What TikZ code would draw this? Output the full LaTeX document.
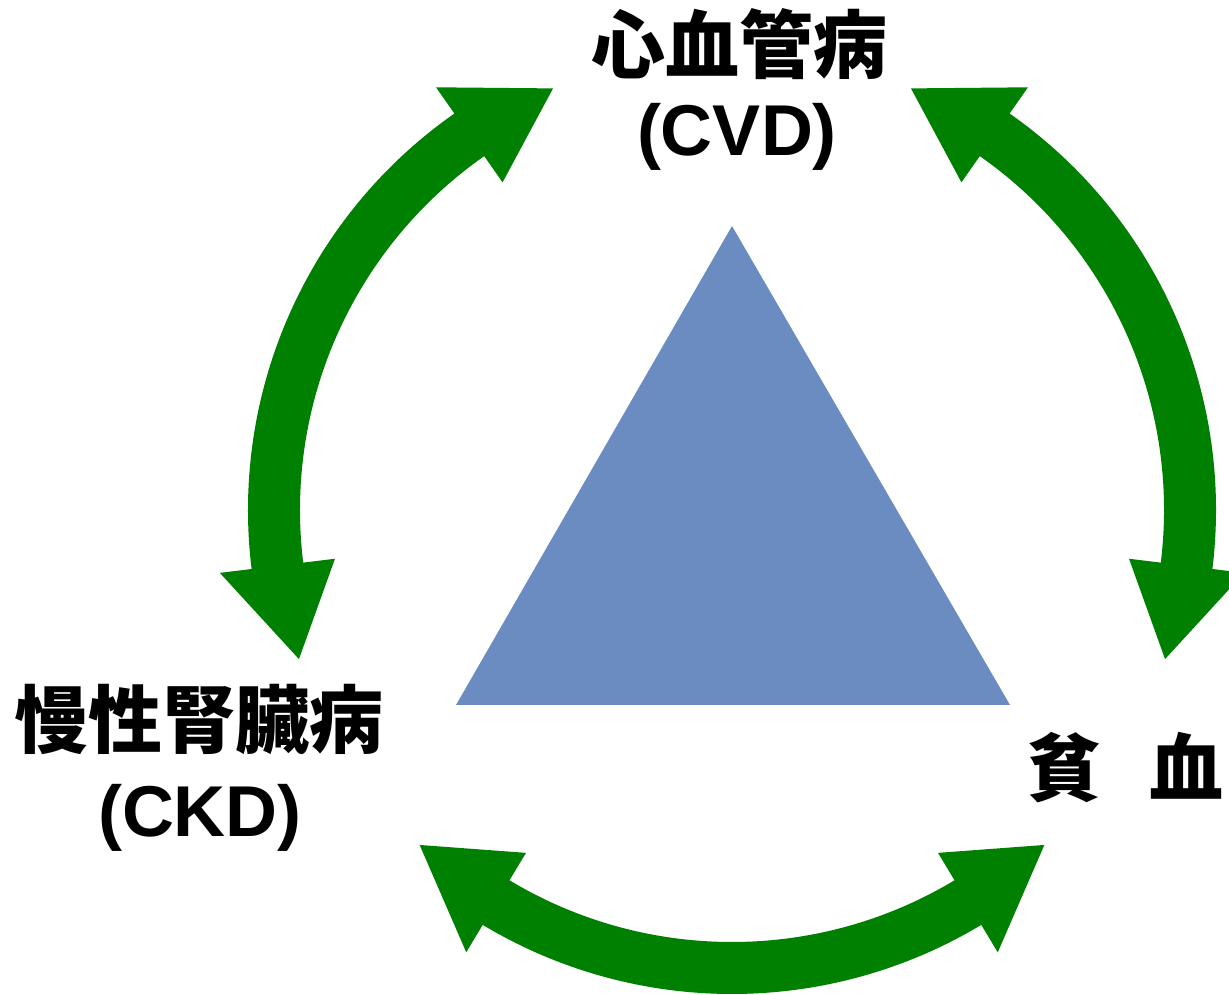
\documentclass[tikz,border=0pt]{standalone}
\usepackage{fontspec}
\setmainfont{Liberation Sans}
\newfontfamily\cjk{Noto Sans CJK JP}
\definecolor{arrowgreen}{RGB}{0,128,0}
\definecolor{triblue}{RGB}{106,140,192}
\tikzset{
  cjklabel/.style={inner sep=0pt, font=\cjk\bfseries\fontsize{74}{80}\selectfont, anchor=base},
  latlabel/.style={inner sep=0pt, font=\bfseries\fontsize{72}{80}\selectfont, anchor=base},
  greenarrow/.style={fill=arrowgreen, draw=none},
}
% double-headed arc arrow around the origin: tip angles #1 < #2
\newcommand\dblarcarrow[2]{%
  \fill[greenarrow]
    (#1:458pt) -- ({#1+12}:516pt) -- ({#1+12}:484pt)
    arc[start angle={#1+12}, end angle={#2-12}, radius=484pt]
    -- ({#2-12}:516pt) -- (#2:458pt) -- ({#2-12}:400pt) -- ({#2-12}:432pt)
    arc[start angle={#2-12}, end angle={#1+12}, radius=432pt]
    -- ({#1+12}:400pt) -- cycle;}
\begin{document}
\begin{tikzpicture}[x=1pt,y=1pt]
  \useasboundingbox (0,0) rectangle (1229,994);
  \clip (0,0) rectangle (1229,994);
  \fill[white] (0,0) rectangle (1229,994);
  % central triangle
  \fill[triblue] (732,768) -- (456,289) -- (1010,289) -- cycle;
  % arrows
  \begin{scope}[shift={(732,484)}]
    \dblarcarrow{113}{199}
    \dblarcarrow{-19}{67}
    \dblarcarrow{227}{313}
  \end{scope}
  % labels
  \node[cjklabel] (cvdjp) at (739,921) {心血管病};
  \node[latlabel] (cvd) at (737,838) {(CVD)};
  \node[cjklabel] (ckdjp) at (199,246) {慢性腎臟病};
  \node[latlabel] (ckd) at (200,158) {(CKD)};
  \node[cjklabel, anchor=base west] (anemia) at (1027,199) {貧\hspace{48pt}血};
\end{tikzpicture}
\end{document}
